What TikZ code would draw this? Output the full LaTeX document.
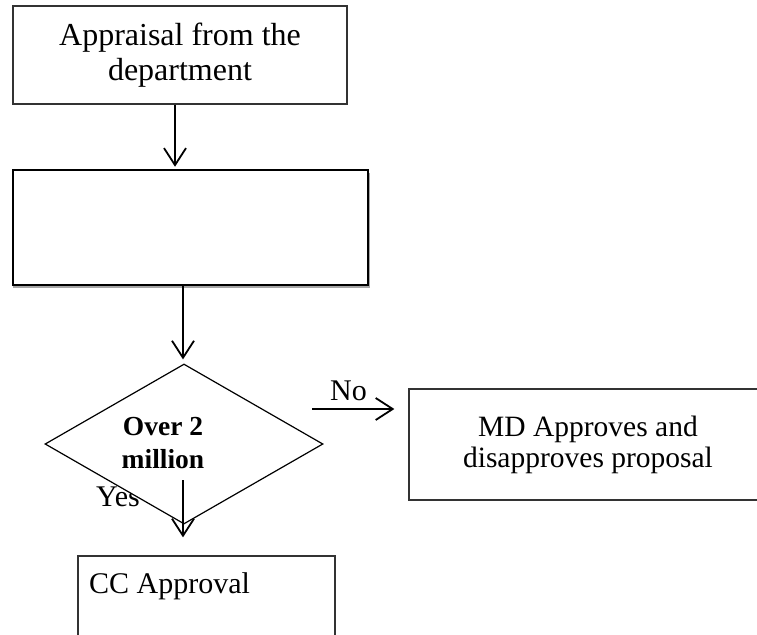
\documentclass[tikz,border=0pt]{standalone}
\usepackage{fontspec}
\setmainfont{Liberation Serif}
\usetikzlibrary{shapes.geometric,arrows.meta}
\begin{document}
\begin{tikzpicture}[x=1pt,y=-1pt,
  boxa/.style={draw=black!80, line width=1.3pt, fill=white, inner sep=0pt, align=center},
  arr/.style={line width=1.8pt, -{Straight Barb[length=17pt,width=22pt,line width=1.8pt]}},
  lbl/.style={font=\fontsize{30}{33}\selectfont, inner sep=0pt},
]
\useasboundingbox (0,0) rectangle (757,634);
\fill[white] (0,0) rectangle (757,634);
\node[boxa, minimum width=334pt, minimum height=98pt, font=\fontsize{32}{35}\selectfont] (top) at (180,55) {Appraisal from the\\department};
\fill[black!35] (13,173) rectangle (370,288);
\node[draw=black, line width=2.5pt, fill=white, minimum width=355pt, minimum height=115pt, inner sep=0pt] (mid) at (190.5,227.5) {};
\node[lbl, anchor=base west] (yes) at (96,506) {Yes};
\node[draw=black, line width=1.2pt, fill=white, diamond, minimum width=278pt, minimum height=160pt, inner sep=0pt] (dec) at (184,444) {};
\node[font=\bfseries\fontsize{27.5}{33}\selectfont, align=center, inner sep=0pt] (dect) at (163,443) {Over 2\\million};
\node[lbl, anchor=base west] (no) at (330,400) {No};
\node[boxa, minimum width=358pt, minimum height=111pt, font=\fontsize{29.5}{31}\selectfont] (md) at (588,444.5) {MD Approves and\\disapproves proposal};
\node[boxa, minimum width=257pt, minimum height=110pt] (cc) at (206.5,611) {};
\node[lbl, anchor=base west] (cct) at (89,593) {CC Approval};
\coordinate (arr1) at ([xshift=-5pt]top.south);
\coordinate (arr2) at ([xshift=-7.5pt]mid.south);
\coordinate (nostart) at (312,409);
\coordinate (yesstart) at (183,480);
\draw[arr, shorten >=2pt] (arr1) -- (arr1 |- mid.north);
\draw[arr, shorten >=4pt] (arr2) -- (arr2 |- dec.north);
\draw[arr, shorten >=14pt] (nostart) -- (nostart -| md.west);
\draw[arr, shorten >=18pt] (yesstart) -- (yesstart |- cc.north);
\end{tikzpicture}
\end{document}
